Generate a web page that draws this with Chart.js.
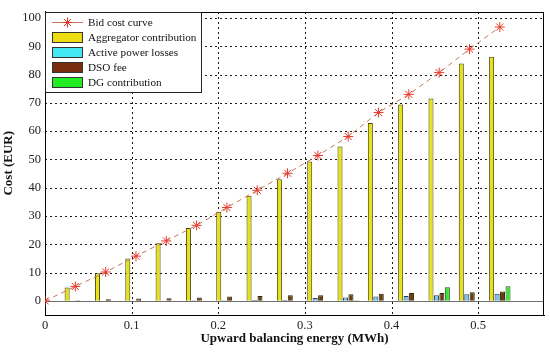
<!DOCTYPE html>
<html>
<head>
<meta charset="utf-8">
<script src="https://cdn.jsdelivr.net/npm/chart.js@4.4.0/dist/chart.umd.min.js"></script>
<style>
  html, body { margin: 0; padding: 0; background: #fff; }
  #wrap { width: 550px; height: 353px; }
</style>
</head>
<body>
<div id="wrap"><canvas id="cost"></canvas></div>
<script>
// upward balancing energy (MWh) for the bid curve points
var energy = [0, 0.035, 0.07, 0.105, 0.14, 0.175, 0.21, 0.245, 0.28, 0.315, 0.35, 0.385, 0.42, 0.455, 0.49, 0.525];
var bidCost = [0, 5.1, 10.2, 15.8, 21.2, 26.7, 33, 39.1, 45.1, 51.4, 58.1, 66.6, 73, 80.7, 89, 96.8];

// bar groups sit on every step except the first one
var barEnergy = energy.slice(1);
var aggregator = [4.7, 9.8, 15.0, 20.4, 25.8, 31.5, 37.2, 43.0, 49.3, 54.6, 62.9, 69.4, 71.5, 83.9, 86.3];
var losses = [0, 0, 0, 0, 0.2, 0.2, 0.3, 0.3, 1.0, 1.2, 1.5, 1.7, 2.0, 2.3, 2.5];
var dsoFee = [0.25, 0.6, 0.8, 0.9, 1.2, 1.5, 1.7, 2.0, 2.0, 2.3, 2.5, 2.8, 2.8, 3.0, 3.3];
var dgContrib = [0, 0, 0, 0, 0, 0, 0, 0, 0, 0.2, 0, 0, 4.8, 0, 5.2];

var xTicks = [0, 0.1, 0.2, 0.3, 0.4, 0.5];
var yTicks = [0, 10, 20, 30, 40, 50, 60, 70, 80, 90, 100];

function pts(xs, ys) {
    return xs.map(function (x, i) { return {x: x, y: ys[i]}; });
}

var serif = "'Liberation Serif', 'Times New Roman', serif";

// dotted grid (as small dots), zero line, outer box and the legend inside the axes
var frame = {
    id: "frame",
    beforeDatasetsDraw: function (chart) {
        var ctx = chart.ctx, a = chart.chartArea;
        var xs = chart.scales.x, ys = chart.scales.y;
        var left = Math.round(a.left), right = Math.round(a.right);
        var top = Math.round(a.top), bottom = Math.round(a.bottom);
        ctx.save();
        ctx.fillStyle = "#1a1a1a";
        xs.ticks.forEach(function (t) {
            var px = Math.round(xs.getPixelForValue(t.value));
            for (var y = top; y < bottom; y += 5) ctx.fillRect(px, y, 1, 2);
        });
        ys.ticks.forEach(function (t) {
            var py = Math.round(ys.getPixelForValue(t.value));
            for (var x = left; x < right; x += 5) ctx.fillRect(x, py, 2, 1);
        });

        ctx.lineWidth = 1;
        var y0 = Math.round(ys.getPixelForValue(0)) + 0.5;
        ctx.strokeStyle = "#6e6e6e";
        ctx.beginPath();
        ctx.moveTo(left, y0);
        ctx.lineTo(right, y0);
        ctx.stroke();

        ctx.strokeStyle = "#000";
        ctx.strokeRect(left + 0.5, top + 0.5, right - left - 1, bottom - top);

        var w = 156, h = 80;
        ctx.fillStyle = "#fff";
        ctx.fillRect(left, top, w, h);
        ctx.strokeStyle = "#222";
        ctx.strokeRect(left + 0.5, top + 0.5, w, h);

        ctx.font = "11.2px " + serif;
        ctx.textBaseline = "middle";
        chart.data.datasets.forEach(function (ds, i) {
            var cy = top + 10 + i * 15;
            var sx = left + 7;
            if (ds.type === "line") {
                ctx.strokeStyle = ds.borderColor;
                ctx.beginPath();
                ctx.moveTo(sx, cy + 0.5);
                ctx.lineTo(sx + 31, cy + 0.5);
                ctx.stroke();
                ctx.strokeStyle = ds.pointBorderColor;
                ctx.fillStyle = ds.pointBorderColor;
                Chart.helpers.drawPoint(ctx, {pointStyle: "star", radius: 5, borderWidth: 1}, sx + 15.5, cy + 0.5);
            } else {
                ctx.fillStyle = ds.legendColor;
                ctx.fillRect(sx, cy - 5, 31, 10);
                ctx.strokeStyle = "#333";
                ctx.strokeRect(sx + 0.5, cy - 4.5, 30, 10);
            }
            ctx.fillStyle = "#111";
            ctx.fillText(ds.label, left + 43, cy + 1);
        });
        ctx.restore();
    }
};

new Chart(document.getElementById("cost"), {
    type: "bar",
    data: {
        datasets: [
            {
                type: "line",
                label: "Bid cost curve",
                data: pts(energy, bidCost),
                borderColor: "#c47a5e",
                borderWidth: 1,
                borderDash: [5, 4],
                pointStyle: "star",
                pointRadius: 5,
                pointBorderColor: "#e8392c",
                pointBackgroundColor: "#e8392c",
                pointBorderWidth: 1,
                tension: 0
            },
            {
                label: "Aggregator contribution",
                data: pts(barEnergy, aggregator),
                backgroundColor: "#e6e21a",
                legendColor: "#ecdc10",
                borderColor: "#4a4408",
                borderWidth: 1
            },
            {
                label: "Active power losses",
                data: pts(barEnergy, losses),
                backgroundColor: "#78c4ee",
                legendColor: "#44e8f4",
                borderColor: "#2c3c55",
                borderWidth: 1
            },
            {
                label: "DSO fee",
                data: pts(barEnergy, dsoFee),
                backgroundColor: "#6a3c12",
                legendColor: "#7a2c0e",
                borderColor: "#2a2a08",
                borderWidth: 1
            },
            {
                label: "DG contribution",
                data: pts(barEnergy, dgContrib),
                backgroundColor: "#3ce23c",
                legendColor: "#22ec22",
                borderColor: "#2a5a10",
                borderWidth: 1
            }
        ]
    },
    options: {
        responsive: true,
        maintainAspectRatio: false,
        animation: false,
        devicePixelRatio: 1,
        categoryPercentage: 0.72,
        barPercentage: 0.92,
        layout: { padding: { top: 6, right: 5, left: 0, bottom: 0 } },
        plugins: {
            legend: { display: false },
            tooltip: { enabled: false }
        },
        scales: {
            x: {
                type: "linear",
                min: 0,
                max: 0.576,
                offset: false,
                afterFit: function (s) { s.height = 38; },
                afterBuildTicks: function (s) {
                    s.ticks = xTicks.map(function (v) { return {value: v}; });
                },
                grid: { display: false, offset: false, drawTicks: false },
                border: { display: true, color: "#000" },
                ticks: {
                    padding: 3,
                    color: "#222",
                    font: { family: serif, size: 12.5 },
                    callback: function (v) { return String(v); }
                },
                title: {
                    display: true,
                    text: "Upward balancing energy (MWh)",
                    color: "#111",
                    font: { family: serif, size: 13, weight: "bold" },
                    padding: { top: 0, bottom: 7 }
                }
            },
            y: {
                min: -5,
                max: 102.3,
                afterFit: function (s) { s.width = 45; },
                afterBuildTicks: function (s) {
                    s.ticks = yTicks.map(function (v) { return {value: v}; });
                },
                grid: { display: false, drawTicks: false },
                border: { display: true, color: "#000" },
                ticks: {
                    padding: 4,
                    color: "#222",
                    font: { family: serif, size: 12.5 }
                },
                title: {
                    display: true,
                    text: "Cost (EUR)",
                    color: "#111",
                    font: { family: serif, size: 13, weight: "bold" },
                    padding: { top: 1, bottom: 0 }
                }
            }
        }
    },
    plugins: [frame]
});
</script>
</body>
</html>
